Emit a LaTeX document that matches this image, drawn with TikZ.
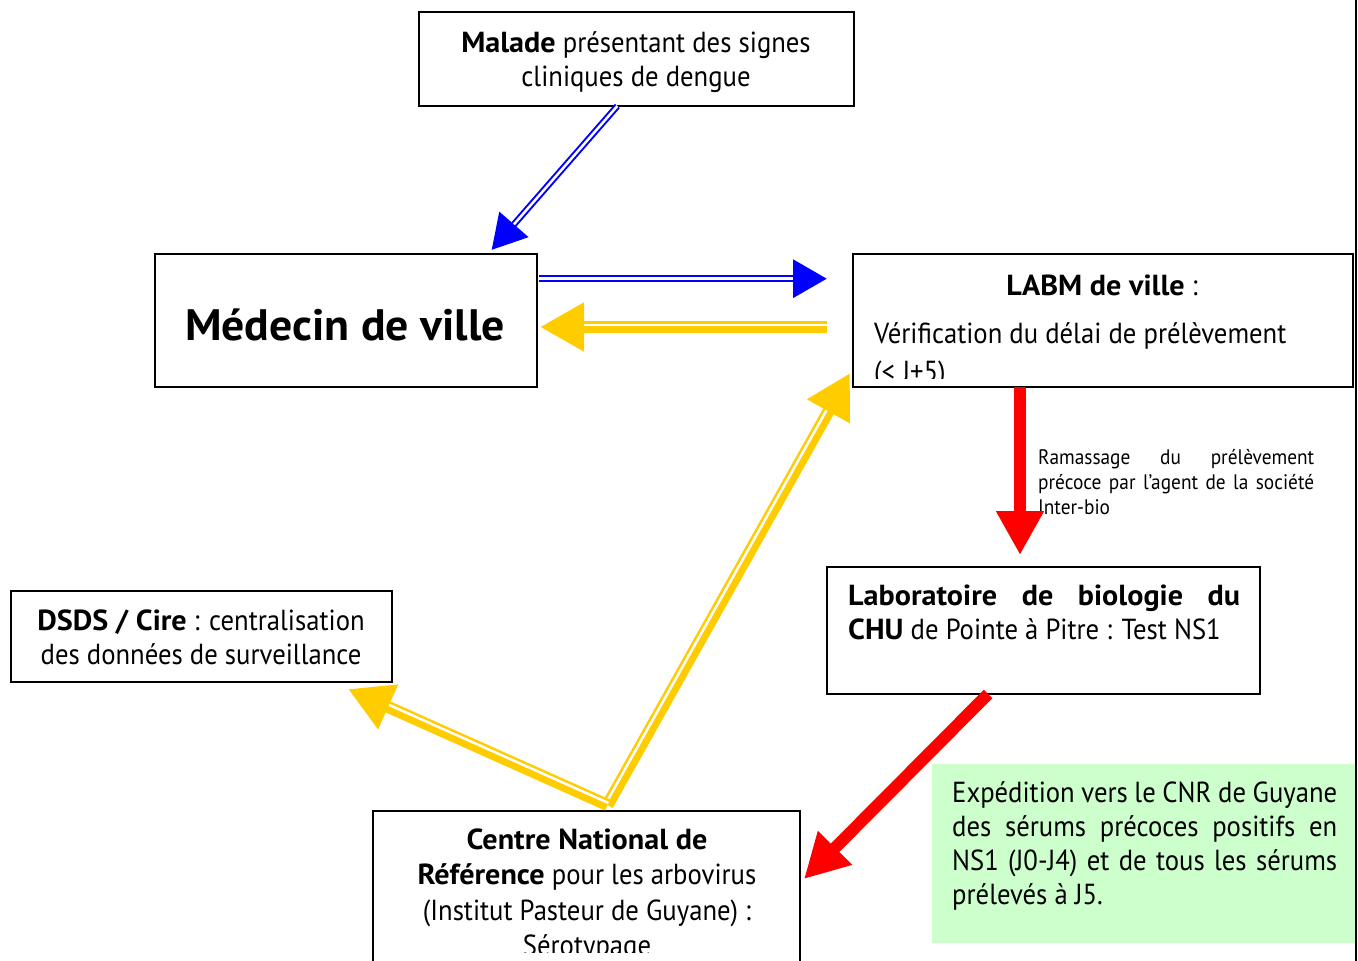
\documentclass[tikz,border=0pt]{standalone}
\usepackage{fontspec}
\setmainfont{PT Sans}[FakeStretch=0.92,BoldFeatures={FakeStretch=1.04}]
\usetikzlibrary{arrows.meta,calc,positioning}

\definecolor{arrowblue}{RGB}{0,0,255}
\definecolor{arrowyellow}{RGB}{255,204,0}
\definecolor{arrowred}{RGB}{255,0,0}
\definecolor{notegreen}{RGB}{204,255,204}

\tikzset{box/.style = {draw,line width=1.6pt,inner sep=0pt,outer sep=0pt}}
\tikzset{txt/.style = {inner sep=0pt,font=\fontsize{29}{34}\selectfont}}
\tikzset{bluearrow/.style = {arrowblue,line width=6.5pt,-{Triangle[length=34pt,width=37pt]}}}
\tikzset{yellowarrow/.style = {arrowyellow,line width=12pt,-{Triangle[length=44pt,width=46pt]}}}
\tikzset{redarrow/.style = {arrowred,line width=12pt,-{Triangle[length=44pt,width=45pt]}}}

% white gap inside a doubled shaft: from, to, side offset, tip length
\newcommand{\gapline}[4]{%
  \coordinate (g1) at ($(#1)!#3!90:(#2)$);
  \coordinate (g2) at ($(#2)!#3!-90:(#1)$);
  \draw[white,line width=2.5pt,shorten >=#4] (g1) -- (g2);
}

\begin{document}
\begin{tikzpicture}[x=1pt,y=-1pt]
\useasboundingbox (0,0) rectangle (1358,961);

% boxes
\node[box,minimum width=435,minimum height=94] (malade) at (636.5,59) {};
\node[box,minimum width=382,minimum height=133] (medecin) at (346,320.5) {};
\node[box,minimum width=500,minimum height=133] (labm) at (1103,320.5) {};
\node[box,minimum width=433,minimum height=127] (lab) at (1043.5,630.5) {};
\node[box,minimum width=381,minimum height=91] (dsds) at (201.5,636.5) {};
\node[box,minimum width=427,minimum height=189] (cnr) at (586.5,905.5) {};
\node[fill=notegreen,inner sep=0pt,minimum width=423,minimum height=179] (note) at (1143.5,853.5) {};

% texts (base of a centred block = its last line)
\node[txt,anchor=base,align=center] (maladetext) at (636,86) {\textbf{Malade} présentant des signes\\cliniques de dengue};
\node[anchor=base,inner sep=0pt,font=\fontsize{44}{50}\selectfont\bfseries] (medecintext) at (345,340) {Médecin de ville};
\node[txt,anchor=base] (labmtitle) at (1102,295) {\textbf{LABM de ville} :};
\begin{scope}
\clip (labm.north west) rectangle (1352,378);
\node[txt,anchor=base west,align=left] (labmtext) at (874,381) {Vérification du délai de prélèvement\\[4pt](< J+5)};
\end{scope}
\node[anchor=base west,inner sep=0pt,text width=276,align=justify,font=\fontsize{21}{25}\selectfont] (ramassage) at (1038,464) {Ramassage du prélèvement\linebreak précoce par l’agent de la société\linebreak Inter-bio};
\node[txt,anchor=base west,text width=392,align=justify] (labtext) at (848,605) {\textbf{Laboratoire de biologie du}\linebreak \textbf{CHU} de Pointe à Pitre : Test NS1};
\node[txt,anchor=base,align=center] (dsdstext) at (201,664) {\textbf{DSDS / Cire} : centralisation\\des données de surveillance};
\begin{scope}
\clip (cnr.north west) rectangle (800,952);
\node[txt,anchor=base,align=center,font=\fontsize{29}{35.5}\selectfont] (cnrtext) at (587,955.5) {\textbf{Centre National de}\\\textbf{Référence} pour les arbovirus\\(Institut Pasteur de Guyane) :\\Sérotypage};
\end{scope}
\node[txt,anchor=base west,text width=385,align=justify] (notetext) at (952,802) {Expédition vers le CNR de Guyane\linebreak des sérums précoces positifs en\linebreak NS1 (J0-J4) et de tous les sérums\linebreak prélevés à J5.};

% page edge
\draw[line width=1.5pt] (1356,0) -- (1356,961);

% blue arrows
\coordinate (b1) at ($(malade.south west)!0.456!(malade.south east)$);
\coordinate (b2) at ($(medecin.north west)!0.881!(medecin.north east)+(0,-4)$);
\draw[bluearrow] (b1) -- (b2);
\gapline{b1}{b2}{0pt}{34pt}
\coordinate (b3) at ($(medecin.east)+(2,-41.8)$);
\coordinate (b4) at ($(labm.west)+(-26,-41.8)$);
\draw[bluearrow] (b3) -- (b4);
\gapline{b3}{b4}{0pt}{34pt}

% yellow arrows
\coordinate (y1) at ($(labm.west)+(-26,6.5)$);
\coordinate (y2) at ($(medecin.east)+(3,6.5)$);
\draw[yellowarrow] (y1) -- (y2);
\gapline{y1}{y2}{-2.25pt}{44pt}
\coordinate (y3) at ($(cnr.north)+(21,-6)$);
\coordinate (y4) at ($(labm.south west)+(-3,-14)$);
\draw[yellowarrow] (y3) -- (y4);
\gapline{y3}{y4}{2.25pt}{44pt}
\coordinate (y5) at ($(dsds.south east)+(-44,7)$);
\draw[yellowarrow] (y3) -- (y5);
\gapline{y3}{y5}{-2.25pt}{44pt}

% red arrows
\coordinate (r1) at ($(labm.south west)!0.334!(labm.south east)$);
\coordinate (r2) at (r1 |- lab.north);
\draw[redarrow] (r1) -- ($(r2)+(0,-12)$);
\coordinate (r3) at ($(lab.south west)!0.372!(lab.south east)$);
\coordinate (r4) at ($(cnr.east)+(4,-26.5)$);
\draw[redarrow] (r3) -- (r4);

\end{tikzpicture}
\end{document}
